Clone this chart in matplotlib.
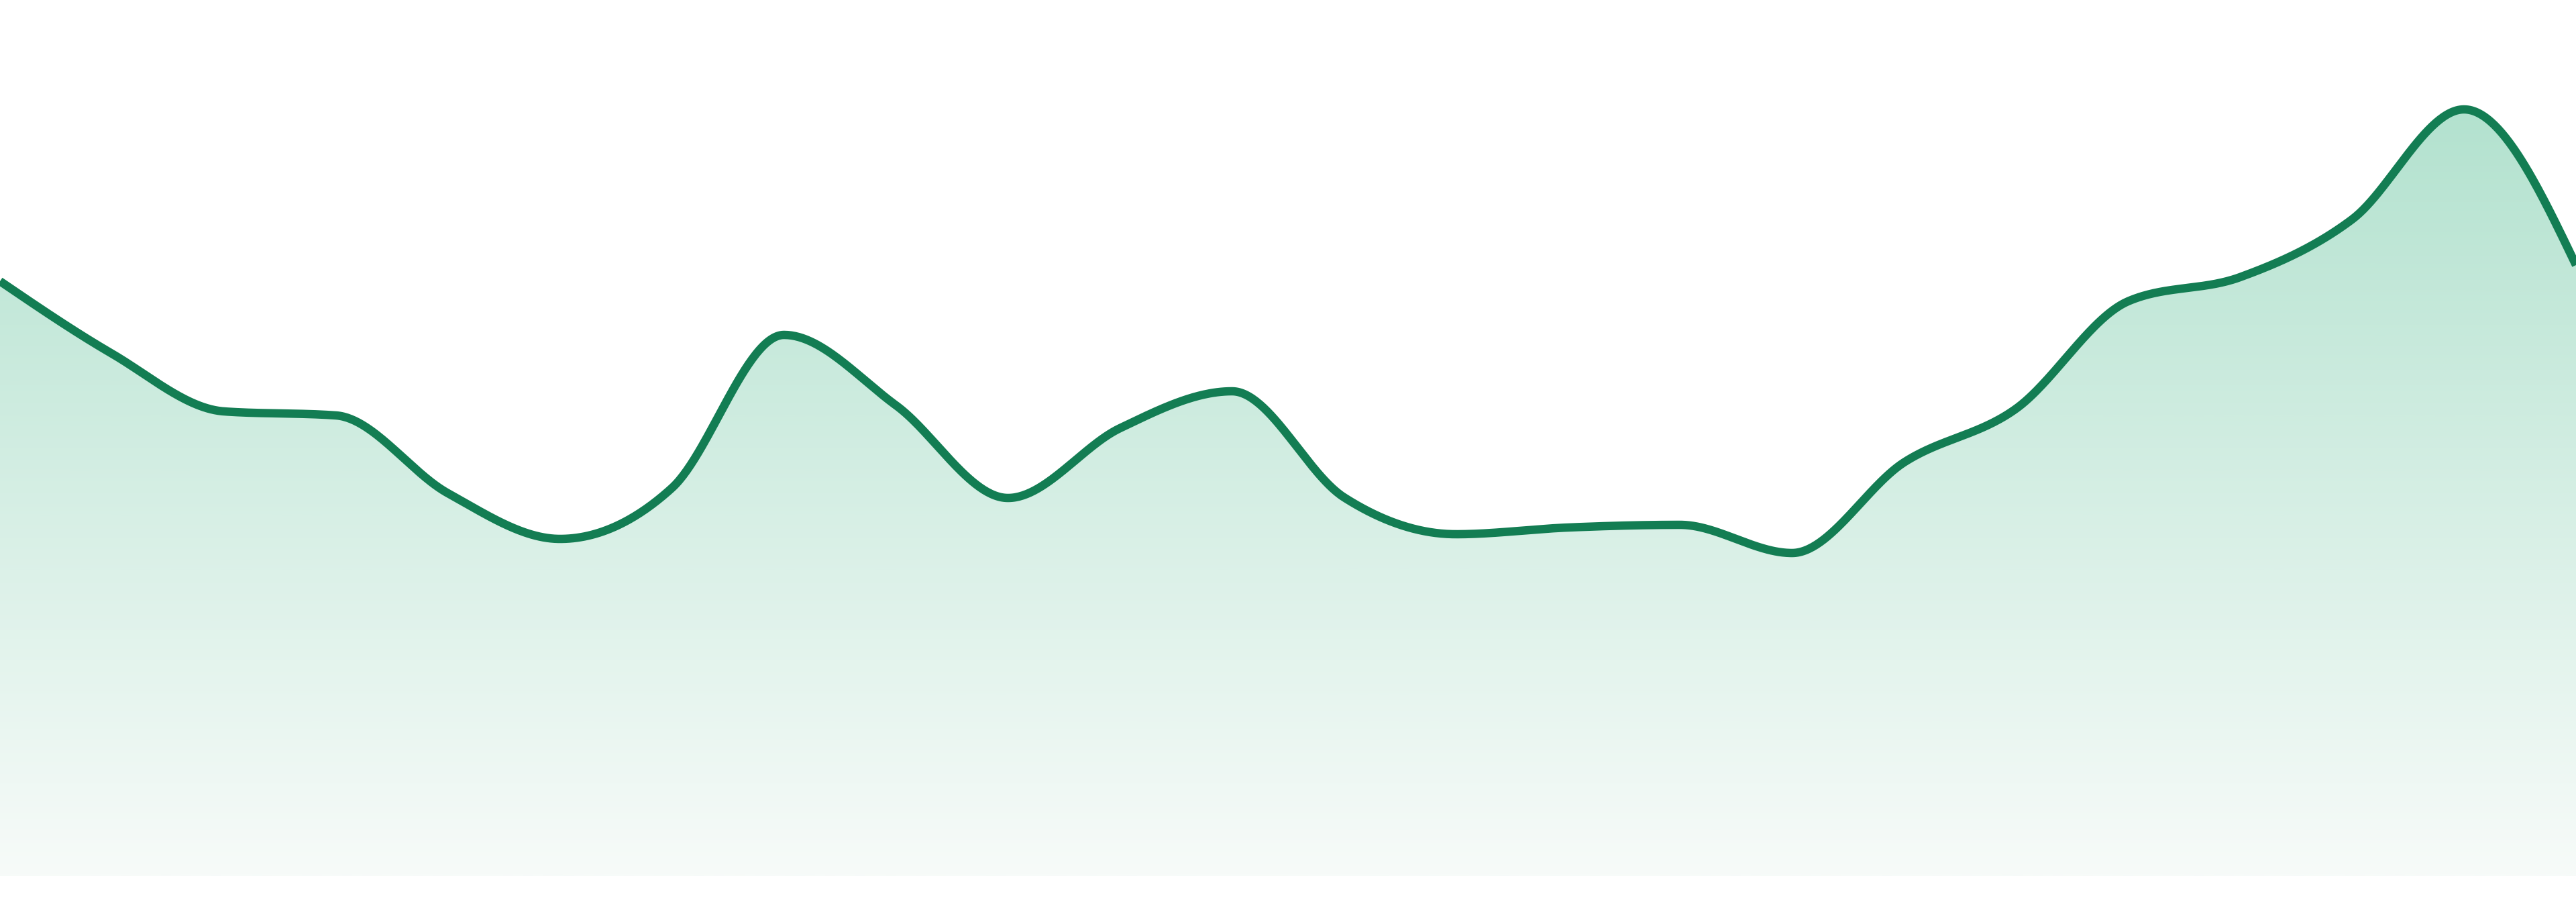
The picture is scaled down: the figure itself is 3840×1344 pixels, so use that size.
import numpy as np
import matplotlib
matplotlib.use("Agg")
import matplotlib.pyplot as plt
from matplotlib.patches import Polygon
from matplotlib.colors import LinearSegmentedColormap

# -----------------------------
# Data (one value per step)
# -----------------------------
steps = list(range(24))
values = [88.6, 77.8, 69.2, 68.6, 57.0, 50.2, 57.8, 80.6, 70.1, 56.3, 66.7, 72.2,
          56.4, 50.9, 51.9, 52.3, 48.1, 61.6, 69.6, 85.6, 89.2, 97.8, 114.2, 91.0]

line_color = "#137d53"
fill_top = "#b3e2cf"
fill_bottom = "#f7fbf9"


# -----------------------------
# Monotone cubic (d3 curveMonotoneX style)
# -----------------------------
def monotone_curve(x, y, per_seg=60):
    x = np.asarray(x, float)
    y = np.asarray(y, float)
    h = np.diff(x)
    s = np.diff(y) / h
    n = len(x)
    t = np.zeros(n)
    for i in range(1, n - 1):
        p = (s[i - 1] * h[i] + s[i] * h[i - 1]) / (h[i - 1] + h[i])
        sg = (1 if s[i - 1] >= 0 else -1) + (1 if s[i] >= 0 else -1)
        t[i] = sg * min(abs(s[i - 1]), abs(s[i]), 0.5 * abs(p))
    t[0] = (3 * s[0] - t[1]) / 2
    t[-1] = (3 * s[-1] - t[-2]) / 2

    xs, ys = [], []
    for i in range(n - 1):
        u = np.linspace(0, 1, per_seg, endpoint=(i == n - 2))
        h00 = 2 * u**3 - 3 * u**2 + 1
        h10 = u**3 - 2 * u**2 + u
        h01 = -2 * u**3 + 3 * u**2
        h11 = u**3 - u**2
        xs.append(x[i] + u * h[i])
        ys.append(h00 * y[i] + h10 * h[i] * t[i] + h01 * y[i + 1] + h11 * h[i] * t[i + 1])
    return np.concatenate(xs), np.concatenate(ys)


cx, cy = monotone_curve(steps, values)

# -----------------------------
# Figure
# -----------------------------
fig = plt.figure(figsize=(38.4, 13.44), dpi=100)
ax = fig.add_axes([0, 0, 1, 1])
ax.set_xlim(steps[0], steps[-1])
ax.set_ylim(-3.9, 130.5)
ax.axis("off")

# gradient fill clipped to the area under the curve
top = max(values)
cmap = LinearSegmentedColormap.from_list("fade", [fill_bottom, fill_top])
grad = np.linspace(0, 1, 512).reshape(-1, 1)
im = ax.imshow(grad, cmap=cmap, aspect="auto", origin="lower",
               extent=[steps[0], steps[-1], 0, top], zorder=1)

verts = np.column_stack([np.r_[cx, cx[-1], cx[0]], np.r_[cy, 0, 0]])
area = Polygon(verts, closed=True, facecolor="none", edgecolor="none")
ax.add_patch(area)
im.set_clip_path(area)

ax.plot(cx, cy, color=line_color, linewidth=9, solid_capstyle="butt", zorder=3)

plt.savefig("out.png", dpi=100)
plt.close()
